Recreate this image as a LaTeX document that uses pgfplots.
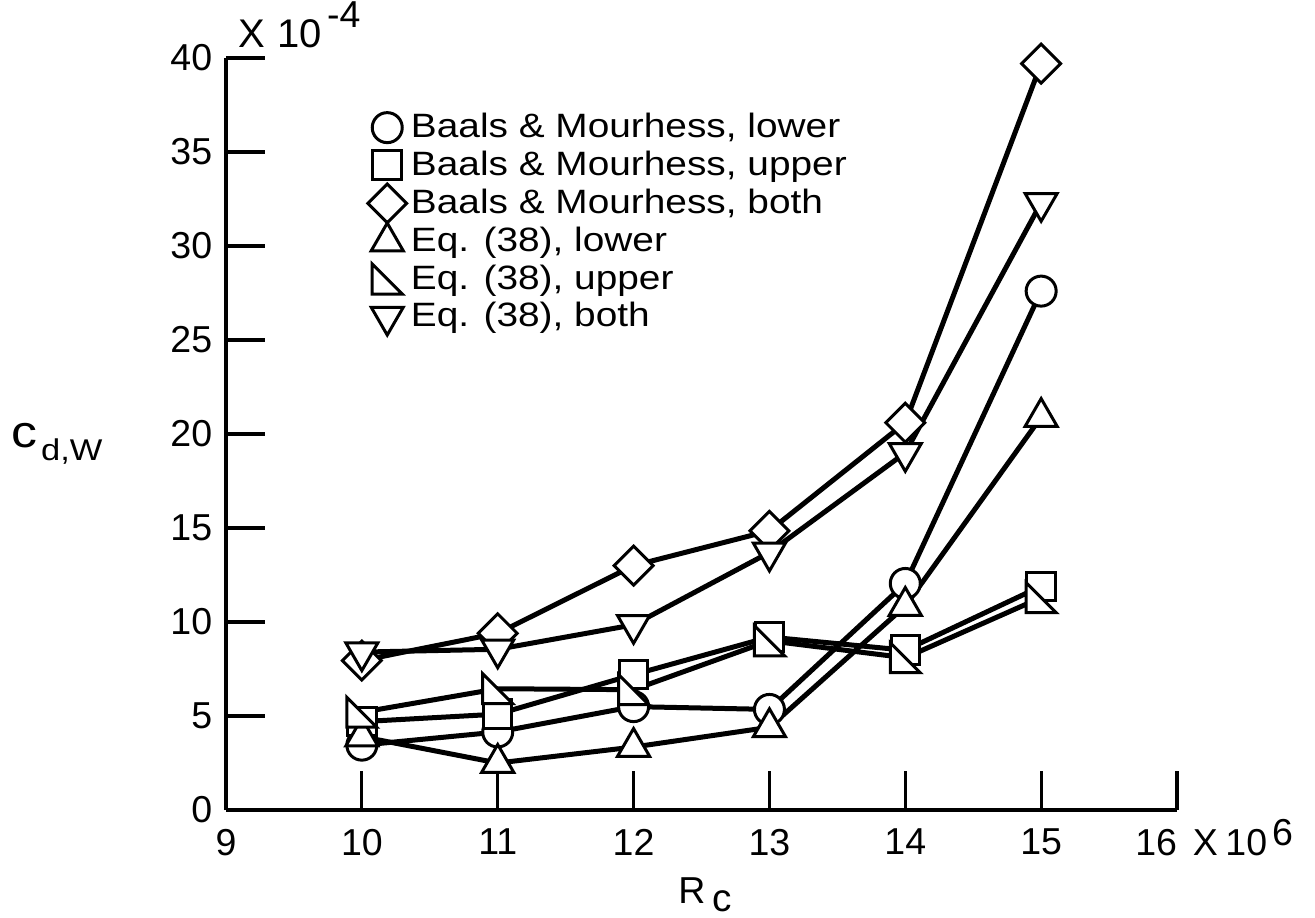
\documentclass[border=0pt]{standalone}
\usepackage{fontspec}
\setmainfont{Liberation Sans}
\newfontfamily\legfont[FakeStretch=1.15]{Liberation Sans}
\usepackage{pgfplots}
\pgfplotsset{compat=1.18}
\pgfdeclareplotmark{rtri}{%
  \pgfpathmoveto{\pgfqpoint{-\pgfplotmarksize}{\pgfplotmarksize}}%
  \pgfpathlineto{\pgfqpoint{-\pgfplotmarksize}{-\pgfplotmarksize}}%
  \pgfpathlineto{\pgfqpoint{\pgfplotmarksize}{-\pgfplotmarksize}}%
  \pgfpathclose
  \pgfusepathqfillstroke}
\tikzset{mk/.style={solid, fill=white, draw=black, line width=1.2pt}}
\begin{document}
\begin{tikzpicture}
\begin{axis}[
  scale only axis,
  width=380.4pt, height=300.8pt,
  xmin=9, xmax=16, ymin=0, ymax=40,
  axis lines=left,
  axis line style={-, line width=1.6pt, black},
  tick align=inside,
  major tick length=15.5pt,
  major tick style={line width=1.3pt, black},
  xtick={9,10,11,12,13,14,15,16},
  xticklabels={9,10,11,12,13,14,15,{\llap{16}\rlap{\hspace{6.4pt}X\hspace{3pt}10\hspace{2pt}\smash{\raisebox{3.7pt}{6}}}}},
  ytick={0,5,10,15,20,25,30,35,40},
  /pgf/number format/assume math mode=true,
  tick label style={font=\fontsize{15}{15}\selectfont},
  xticklabel style={yshift=-4pt},
  yticklabel style={xshift=-2pt},
  clip=false,
  every axis y label/.style={at={(axis description cs:-0.226,0.487)}, anchor=west, inner sep=0pt},
  every axis x label/.style={at={(axis description cs:0.504,0)}, anchor=north, yshift=-27pt, inner sep=0pt},
  ylabel={{\legfont\fontsize{18}{18}\selectfont c}\hspace{1.5pt}\raisebox{-5.5pt}{\legfont\fontsize{12}{12}\selectfont d,W}},
  xlabel={{\fontsize{15}{15}\selectfont R}\hspace{3pt}\raisebox{-3pt}{\fontsize{15.5}{15.5}\selectfont c}},
  every axis plot/.append style={black, line width=2pt},
  legend image code/.code={\path[draw=none,fill=none] (-8pt,-7.5pt) rectangle (8.5pt,7.5pt); \draw[only marks] plot coordinates {(0pt,0pt)};},
  legend style={at={(axis description cs:0.148,0.933)}, anchor=north west, draw=none, fill=none, inner sep=0pt, row sep=0pt, font=\legfont\fontsize{13.5}{13.5}\selectfont, nodes={inner sep=1pt}},
  legend cell align=left,
]
\addplot[mark=*, mark size=6pt, mark options={mk}] coordinates {(10,3.45) (11,4.15) (12,5.5) (13,5.35) (14,12.05) (15,27.6)};
\addlegendentry{Baals \& Mourhess, lower}
\addplot[mark=square*, mark size=5.7pt, mark options={mk}] coordinates {(10,4.7) (11,5.1) (12,7.2) (13,9.2) (14,8.5) (15,11.9)};
\addlegendentry{Baals \& Mourhess, upper}
\addplot[mark=square*, mark size=5.5pt, mark options={mk, rotate=45}] coordinates {(10,7.95) (11,9.4) (12,13.0) (13,14.85) (14,20.6) (15,39.7)};
\addlegendentry{Baals \& Mourhess, both}
\addplot[mark=triangle*, mark size=7.4pt, mark options={mk}] coordinates {(10,3.9) (11,2.5) (12,3.35) (13,4.4) (14,10.85) (15,20.9)};
\addlegendentry{Eq. (38), lower}
\addplot[mark=rtri, mark size=6pt, mark options={mk}] coordinates {(10,5.2) (11,6.45) (12,6.4) (13,9.0) (14,8.1) (15,11.3)};
\addlegendentry{Eq. (38), upper}
\addplot[mark=triangle*, mark size=7.4pt, mark options={mk, rotate=180}] coordinates {(10,8.4) (11,8.55) (12,9.85) (13,13.7) (14,19.0) (15,32.3)};
\addlegendentry{Eq. (38), both}
\node[anchor=base west, inner sep=0pt, font=\fontsize{16}{16}\selectfont] at ([xshift=4.8pt, yshift=4pt]axis description cs:0,1) {X\hspace{5pt}10\hspace{2pt}\raisebox{8pt}{\fontsize{15}{15}\selectfont -4}};
\end{axis}
\path (current axis.south west) ++(-90.4pt,-42.8pt) rectangle ([xshift=55.2pt, yshift=23.2pt]current axis.north east);
\end{tikzpicture}
\end{document}
